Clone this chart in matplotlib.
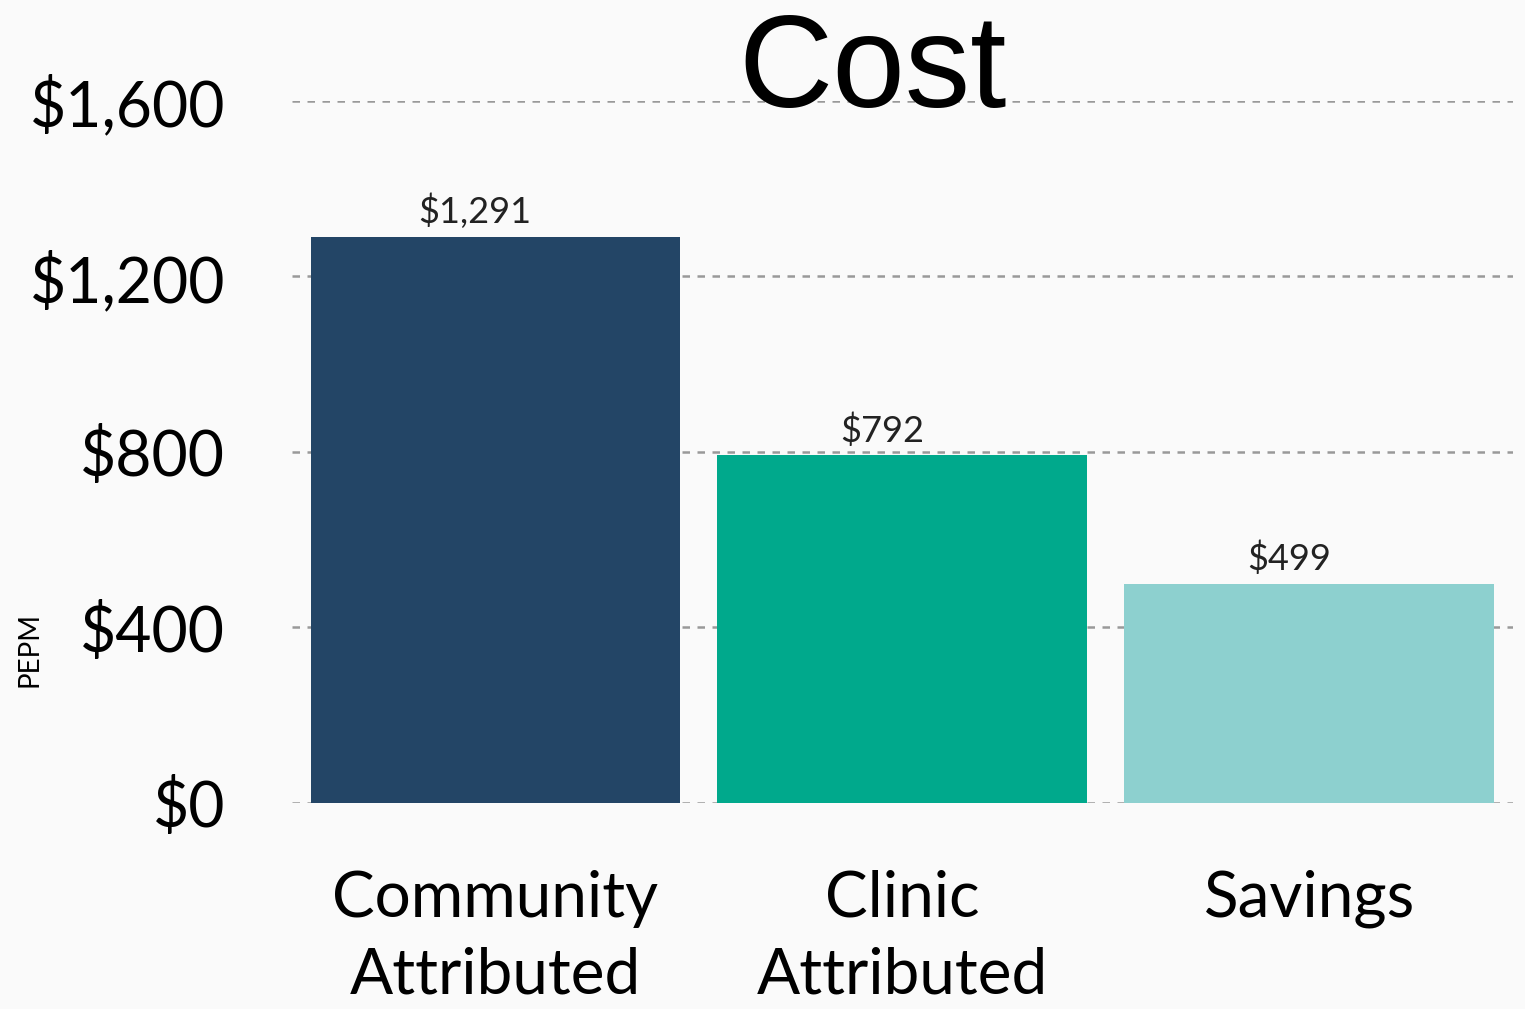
import matplotlib
matplotlib.use('Agg')
import matplotlib.pyplot as plt
from matplotlib.ticker import FuncFormatter

# chart data
categories = ['Community\nAttributed', 'Clinic\nAttributed', 'Savings']
values = [1291, 792, 499]
bar_colors = ['#234566', '#00A98C', '#8DD0CF']
yticks = [0, 400, 800, 1200, 1600]

plt.rcParams['font.family'] = ['Lato', 'DejaVu Sans']

fig = plt.figure(figsize=(15.25, 10.09), dpi=100, facecolor='#FAFAFA')
ax = fig.add_axes([0.1915, 0.2042, 0.8005, 0.6957])
ax.set_facecolor('#FAFAFA')

x = range(len(categories))
bars = ax.bar(x, values, width=0.909, color=bar_colors, zorder=2)

# value labels sit a little left of bar centre in the original
for b, v in zip(bars, values):
    ax.text(b.get_x() + b.get_width() / 2 - 0.05, v + 18, f'${v:,}',
            ha='center', va='bottom', fontsize=26, color='#222222')

ax.set_xlim(-0.5, 2.5)
ax.set_ylim(0, 1600)
ax.set_yticks(yticks)
ax.yaxis.set_major_formatter(FuncFormatter(lambda v, p: f'${v:,.0f}'))
ax.set_xticks(list(x))
ax.set_xticklabels(categories, linespacing=1.4)
ax.tick_params(axis='y', length=0, pad=48, labelsize=45)
ax.tick_params(axis='x', length=0, pad=48, labelsize=46)

ax.grid(axis='y', color='#999999', linestyle=(0, (3, 3)), linewidth=1.8, zorder=1)
ax.set_axisbelow(True)
for s in ax.spines.values():
    s.set_visible(False)

fig.text(0.0195, 0.356, 'PEPM', rotation=90, ha='center', va='center', fontsize=20)
fig.text(0.572, 0.894, 'Cost', ha='center', va='baseline', fontsize=94,
         family=['Liberation Sans', 'DejaVu Sans'])

fig.savefig('out.png', dpi=100, facecolor=fig.get_facecolor())
